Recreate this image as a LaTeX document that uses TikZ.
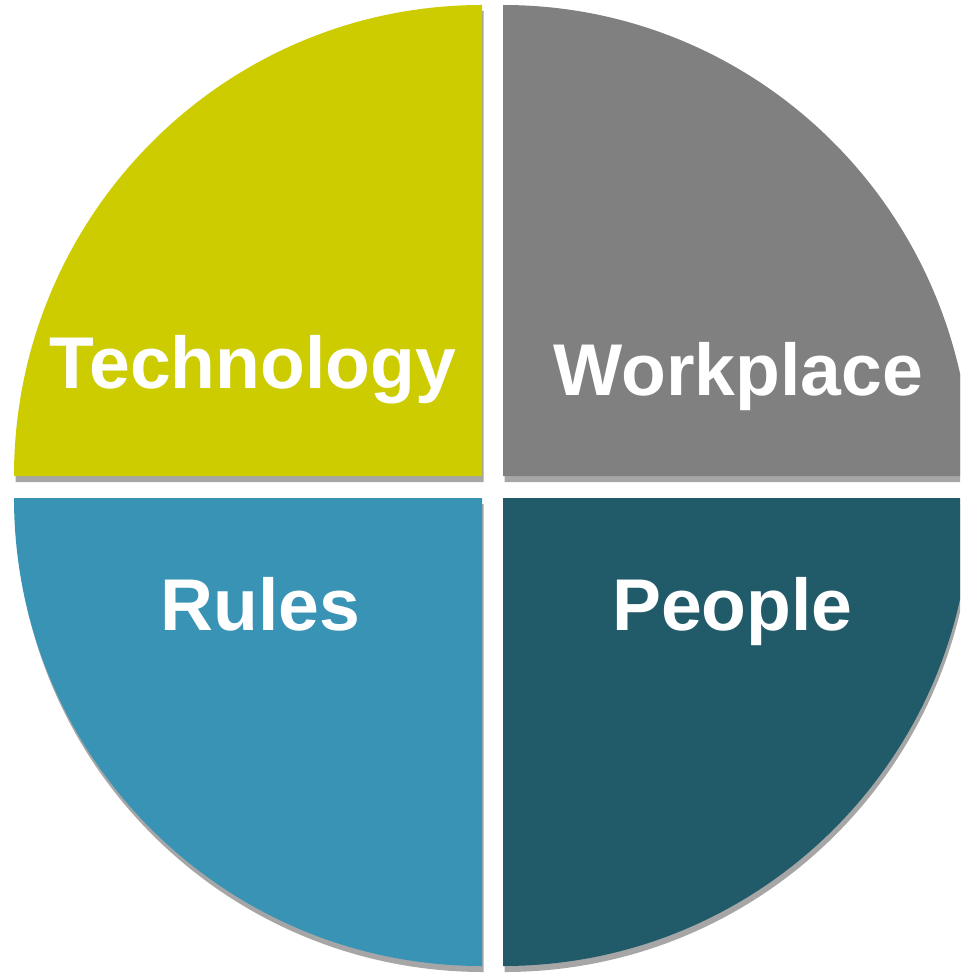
\documentclass[tikz,border=0pt]{standalone}
\usepackage{fontspec}
\setmainfont{Liberation Sans}

\tikzset{every picture/.style={line width=0.75pt}}
\tikzset{
  quadshadow/.style={fill={rgb, 255:red, 166; green, 166; blue, 166 }, fill opacity=1},
  quadlabel/.style={anchor=base, text=white, font=\fontsize{55}{60}\selectfont\bfseries},
}

\begin{document}
\begin{tikzpicture}[x=0.75pt,y=0.75pt,yscale=-1,xscale=1]
	\useasboundingbox (0,0) rectangle (960,973); %set diagram to 960 x 973
	\clip (0,0) rectangle (960,973);

	%Shape: Shadow of the quarters
	\path [quadshadow] (483.5,482) -- (15.5,482) .. controls (15.5,221.9) and (225,11) .. (483.5,11) -- cycle ;
	\path [quadshadow] (504.5,482) -- (504.5,11) .. controls (763,11) and (972.5,221.9) .. (972.5,482) -- cycle ;
	\path [quadshadow] (483.5,504) -- (483.5,972) .. controls (225,972) and (15.5,762.5) .. (15.5,504) -- cycle ;
	\path [quadshadow] (504.5,504) -- (972.5,504) .. controls (972.5,762.5) and (763,972) .. (504.5,972) -- cycle ;

	%Shape: Quarter Circle [top left] 
	\path [fill={rgb, 255:red, 204; green, 204; blue, 0 }  ,fill opacity=1 ] (482,476) -- (14,476) .. controls (14,215.9) and (223.5,5) .. (482,5) -- cycle ;
	%Shape: Quarter Circle [top right] 
	\path [fill={rgb, 255:red, 128; green, 128; blue, 128 }  ,fill opacity=1 ] (503,476) -- (503,5) .. controls (761.5,5) and (971,215.9) .. (971,476) -- cycle ;
	%Shape: Quarter Circle [bottom left] 
	\path [fill={rgb, 255:red, 57; green, 147; blue, 180 }  ,fill opacity=1 ] (482,498) -- (482,966) .. controls (223.5,966) and (14,756.5) .. (14,498) -- cycle ;
	%Shape: Quarter Circle [bottom right] 
	\path [fill={rgb, 255:red, 33; green, 91; blue, 105 }  ,fill opacity=1 ] (503,498) -- (971,498) .. controls (971,756.5) and (761.5,966) .. (503,966) -- cycle ;

	% Text Node
	\node [quadlabel] (tech) at (253,388) {Technology};
	% Text Node
	\node [quadlabel] (work) at (738.5,395) {Workplace};
	% Text Node
	\node [quadlabel] (rules) at (260.5,630) {Rules};
	% Text Node
	\node [quadlabel] (people) at (732.5,630) {People};

\end{tikzpicture}
\end{document}
